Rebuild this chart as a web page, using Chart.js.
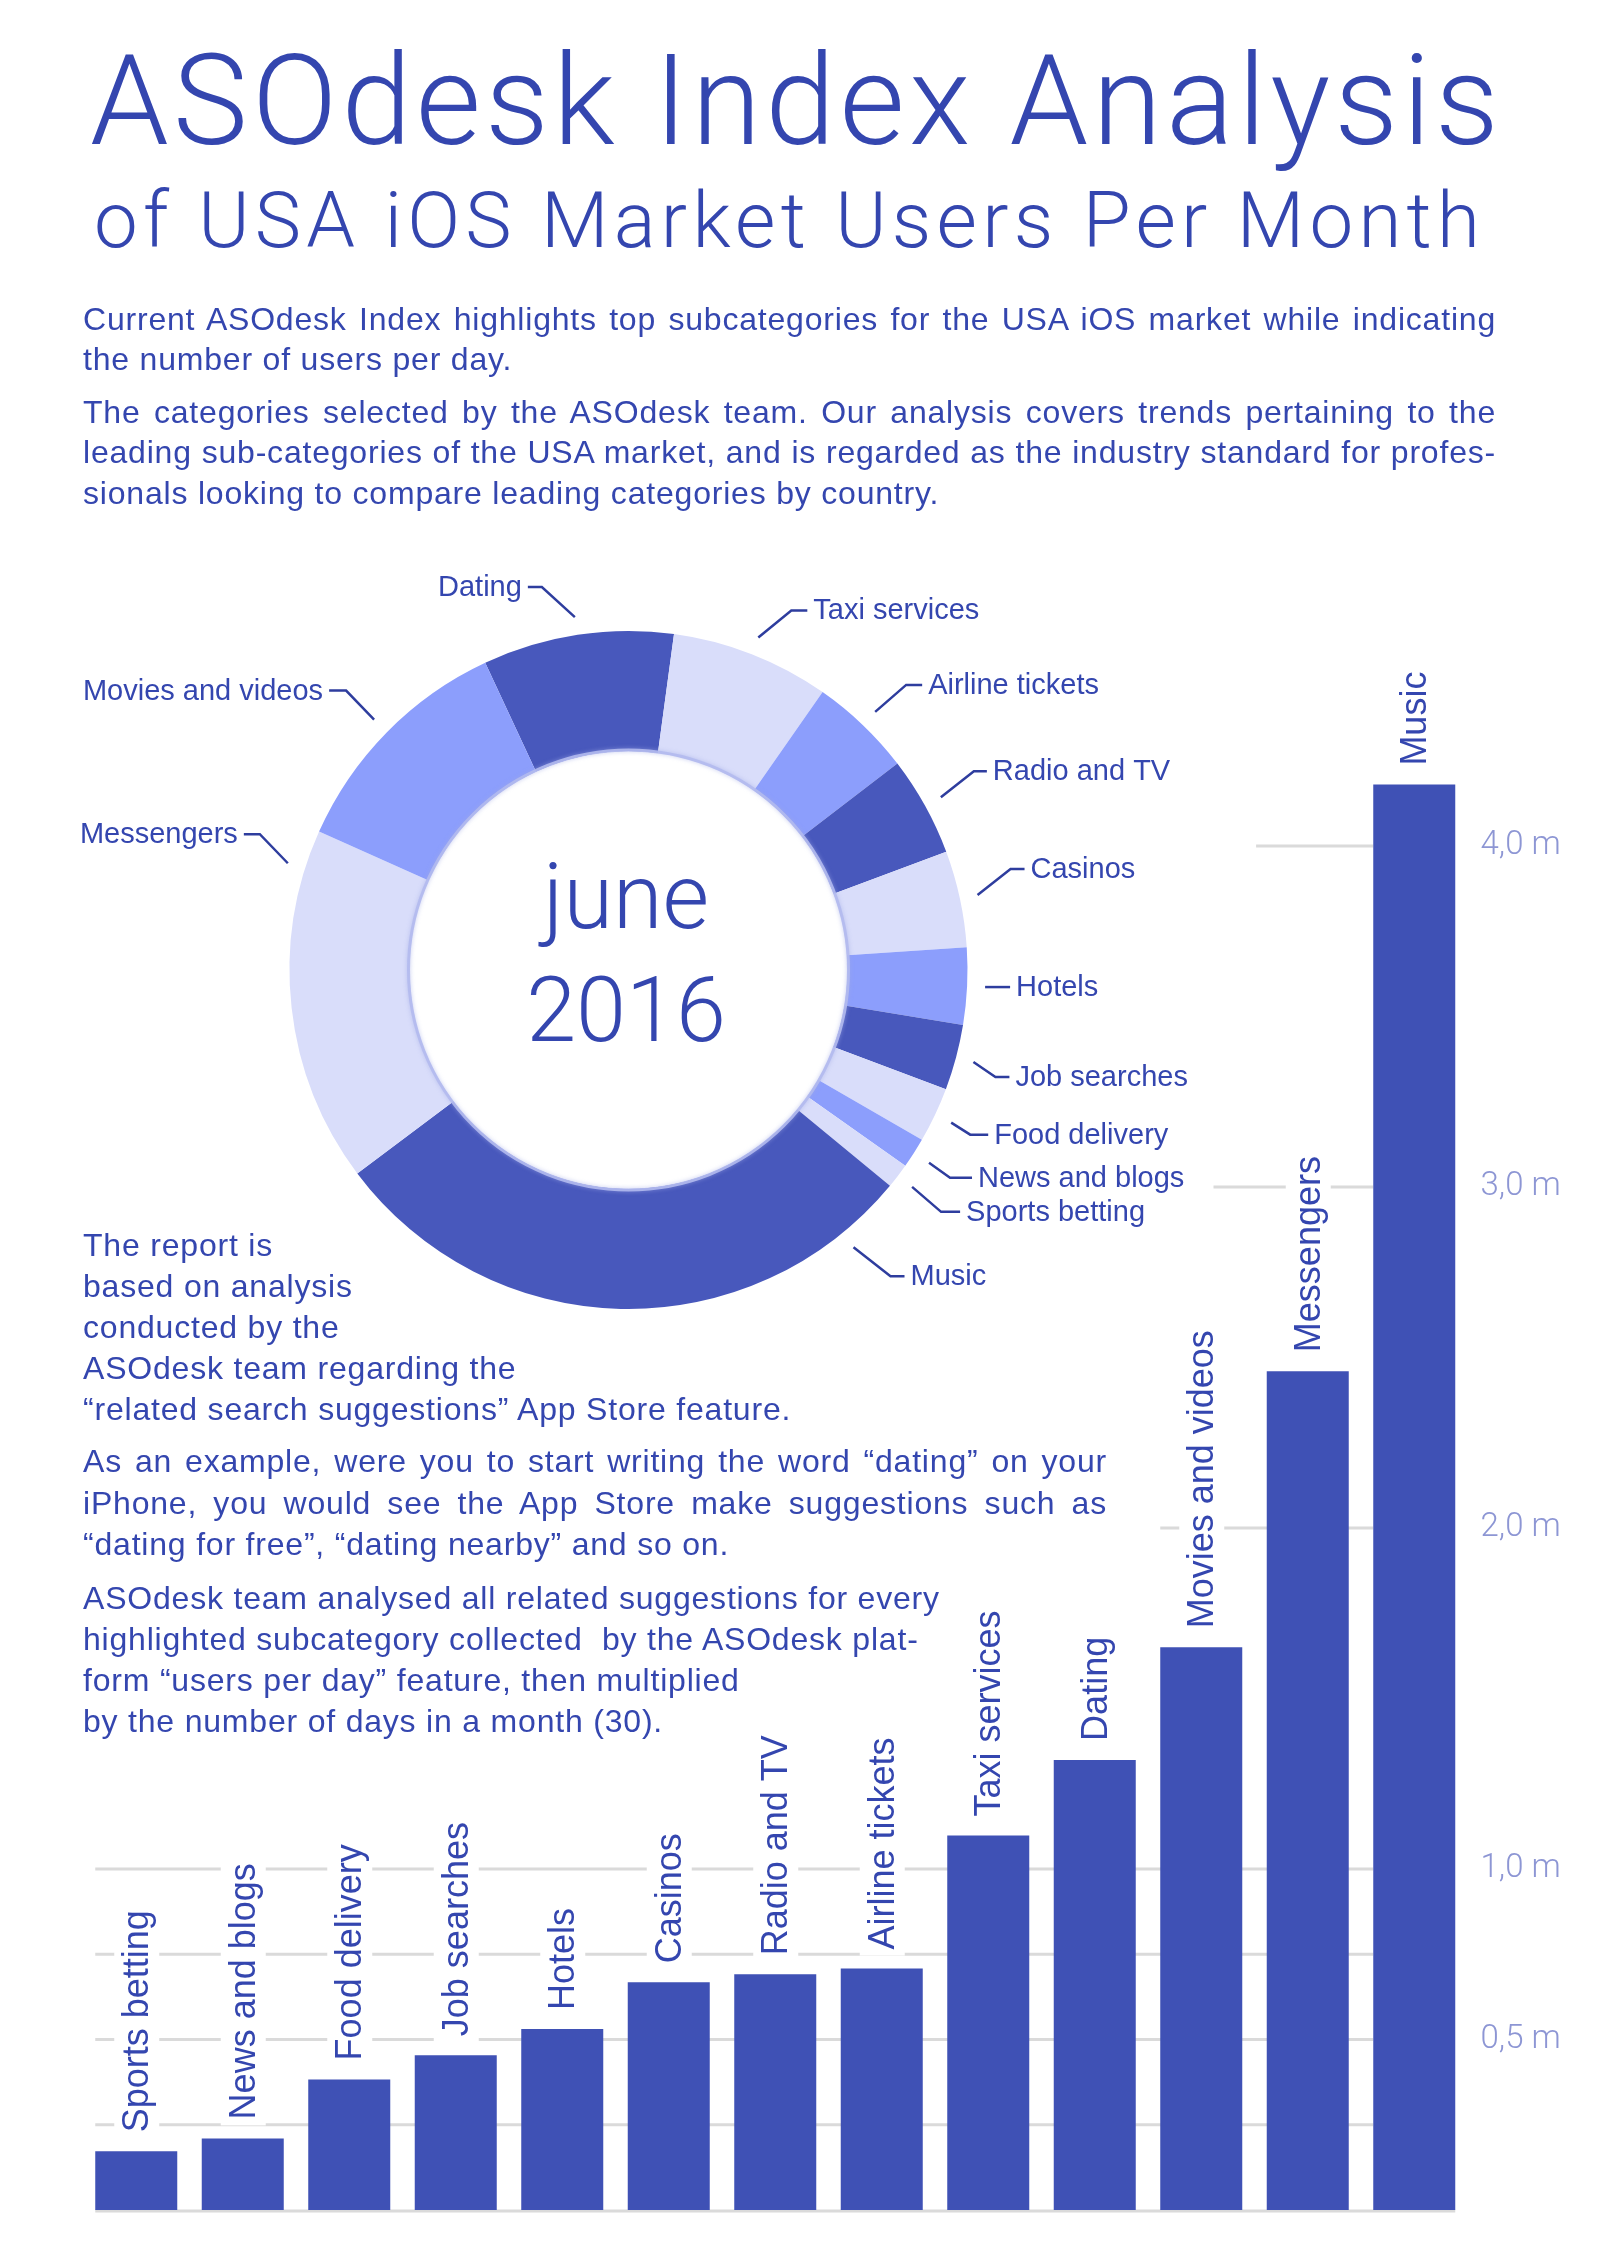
<!DOCTYPE html>
<html>
<head>
<meta charset="utf-8">
<title>ASOdesk Index Analysis</title>
<script src="https://cdn.jsdelivr.net/npm/chart.js@4.4.1/dist/chart.umd.min.js"></script>
<style>
  html, body { margin: 0; padding: 0; background: #fff; }
  body { position: relative; width: 1600px; height: 2263px; overflow: hidden;
         font-family: "Liberation Sans", Arial, sans-serif; color: #3446AF; }
  .layer { position: absolute; left: 0; top: 0; width: 1600px; height: 2263px; }
  .thin { font-family: Roboto, Lato, "Open Sans", sans-serif; font-weight: 300; }
  .head { position: absolute; margin: 0; white-space: nowrap; line-height: 1; }
  .line { position: absolute; left: 83px; font-size: 32px; line-height: 41px; letter-spacing: 0.8px; white-space: pre; }
  .center { position: absolute; left: 426px; width: 400px; text-align: center; font-size: 90px; line-height: 1; }
</style>
</head>
<body>
<div class="layer"><canvas id="barChart"></canvas></div>
<div class="layer"><canvas id="donutChart"></canvas></div>

<h1 class="head thin" style="left:90px;font-size:126px" data-b="144" data-w="1413">ASOdesk Index Analysis</h1>
<h2 class="head thin" style="left:94px;font-size:78px" data-b="247" data-w="1391">of USA iOS Market Users Per Month</h2>

<div class="line" data-j="1413" data-b="330"><span>Current ASOdesk Index highlights top subcategories for the USA iOS market while indicating</span></div>
<div class="line" data-b="370">the number of users per day.</div>
<div class="line" data-j="1413" data-b="423"><span>The categories selected by the ASOdesk team. Our analysis covers trends pertaining to the</span></div>
<div class="line" data-j="1413" data-b="463"><span>leading sub-categories of the USA market, and is regarded as the industry standard for profes-</span></div>
<div class="line" data-b="504">sionals looking to compare leading categories by country.</div>

<div class="center thin" data-b="928">june</div>
<div class="center thin" data-b="1041">2016</div>

<div class="line" data-b="1256">The report is</div>
<div class="line" data-b="1297">based on analysis</div>
<div class="line" data-b="1338">conducted by the</div>
<div class="line" data-b="1379">ASOdesk team regarding the</div>
<div class="line" data-b="1420">“related search suggestions” App Store feature.</div>
<div class="line" data-j="1024" data-b="1472"><span>As an example, were you to start writing the word “dating” on your</span></div>
<div class="line" data-j="1024" data-b="1514"><span>iPhone, you would see the App Store make suggestions such as</span></div>
<div class="line" data-b="1555">“dating for free”, “dating nearby” and so on.</div>
<div class="line" data-b="1609">ASOdesk team analysed all related suggestions for every</div>
<div class="line" data-b="1650">highlighted subcategory collected  by the ASOdesk plat-</div>
<div class="line" data-b="1691">form “users per day” feature, then multiplied</div>
<div class="line" data-b="1732">by the number of days in a month (30).</div>

<script>
// DATA
const categories = ['Sports betting', 'News and blogs', 'Food delivery', 'Job searches', 'Hotels', 'Casinos',
  'Radio and TV', 'Airline tickets', 'Taxi services', 'Dating', 'Movies and videos', 'Messengers', 'Music'];
const usersMillions = [0.172, 0.210, 0.383, 0.454, 0.531, 0.668, 0.691, 0.708, 1.098, 1.320, 1.650, 2.460, 4.180];
const yTickValues = [0.5, 1, 2, 3, 4];
const yTickLabels = ['0,5 m', '1,0 m', '2,0 m', '3,0 m', '4,0 m'];
const gridValues = [0, 0.25, 0.5, 0.75, 1, 2, 3, 4];
const gridStartIndex = [0, 0, 0, 0, 0, 10, 10.5, 10.9];
const donutOrder = ['Dating', 'Taxi services', 'Airline tickets', 'Radio and TV', 'Casinos', 'Hotels',
  'Job searches', 'Food delivery', 'News and blogs', 'Sports betting', 'Music', 'Messengers', 'Movies and videos'];
const donutShades = ['dark', 'light', 'medium', 'dark', 'light', 'medium', 'dark', 'light', 'medium', 'light',
  'dark', 'light', 'medium'];

// STYLE
const TEXT = '#3446AF';
const BAR = '#3F51B5';
const GRID = '#DADADA';
const TICK = '#8D96D4';
const LEADER = '#2E3D9E';
const SHADES = { dark: '#4858BC', medium: '#8C9EFC', light: '#D9DDFA' };
const BAR_PCT = 0.77;

// leader line layout for the doughnut labels (f = position along the slice)
const leaderLayout = {
  'Dating':            { f: 0.5,  dx: -33, dy: -30, h: 14, left: true },
  'Taxi services':     { f: 0.5,  dx: 33,  dy: -27, h: 16 },
  'Airline tickets':   { f: 0.5,  dx: 31,  dy: -27, h: 16 },
  'Radio and TV':      { f: 0.5,  dx: 33,  dy: -26, h: 13 },
  'Casinos':           { f: 0.5,  dx: 33,  dy: -26, h: 14 },
  'Hotels':            { f: 0.5,  dx: 0,   dy: 0,   h: 25 },
  'Job searches':      { f: 0.5,  dx: 22,  dy: 15,  h: 14 },
  'Food delivery':     { f: 0.5,  dx: 19,  dy: 12,  h: 18 },
  'News and blogs':    { f: 0.5,  dx: 21,  dy: 15,  h: 22 },
  'Sports betting':    { f: 0.5,  dx: 29,  dy: 25,  h: 19 },
  'Music':             { f: 0.11, dx: 37,  dy: 29,  h: 14 },
  'Messengers':        { f: 0.89, dx: -28, dy: -29, h: 16, left: true },
  'Movies and videos': { f: 0.5,  dx: -28, dy: -29, h: 17, left: true }
};

// PLUGINS
const partialGrid = {
  id: 'partialGrid',
  beforeDatasetsDraw(chart) {
    const { ctx, scales: { x, y } } = chart;
    const half = x.width / categories.length * BAR_PCT / 2;
    const end = x.getPixelForValue(categories.length - 1) - half;
    ctx.save();
    ctx.strokeStyle = GRID;
    ctx.lineWidth = 3;
    gridValues.forEach((v, k) => {
      const py = y.getPixelForValue(v) + (v === 0 ? 1 : 0);
      const x0 = x.getPixelForValue(gridStartIndex[k]) - half;
      const x1 = v === 0 ? end + 2 * half : end;
      ctx.beginPath(); ctx.moveTo(x0, py); ctx.lineTo(x1, py); ctx.stroke();
    });
    ctx.restore();
  }
};

const barLabels = {
  id: 'barLabels',
  afterDatasetsDraw(chart) {
    const ctx = chart.ctx;
    const bars = chart.getDatasetMeta(0).data;
    ctx.save();
    ctx.font = '36px "Liberation Sans", Arial, sans-serif';
    ctx.textBaseline = 'middle';
    ctx.textAlign = 'left';
    bars.forEach((bar, i) => {
      const text = chart.data.labels[i];
      const w = ctx.measureText(text).width;
      ctx.save();
      ctx.translate(bar.x + 2, bar.y - 19);
      ctx.rotate(-Math.PI / 2);
      ctx.fillStyle = '#fff';
      ctx.fillRect(-6, -24, w + 12, 45);
      ctx.fillStyle = TEXT;
      ctx.fillText(text, 0, 0);
      ctx.restore();
    });
    ctx.restore();
  }
};

const donutLabels = {
  id: 'donutLabels',
  afterDatasetsDraw(chart) {
    const ctx = chart.ctx;
    const arcs = chart.getDatasetMeta(0).data;
    ctx.save();
    // soft rim round the hole
    const a0 = arcs[0];
    ctx.beginPath();
    ctx.arc(a0.x, a0.y, a0.innerRadius + 1, 0, Math.PI * 2);
    ctx.strokeStyle = 'rgba(178,186,238,0.9)';
    ctx.lineWidth = 3;
    ctx.shadowColor = 'rgba(160,170,230,0.7)';
    ctx.shadowBlur = 4;
    ctx.stroke();
    ctx.shadowBlur = 0;

    ctx.font = '29px "Liberation Sans", Arial, sans-serif';
    ctx.textBaseline = 'middle';
    ctx.fillStyle = TEXT;
    ctx.strokeStyle = LEADER;
    ctx.lineWidth = 2.5;
    arcs.forEach((arc, i) => {
      const name = chart.data.labels[i];
      const lay = leaderLayout[name];
      const a = arc.startAngle + lay.f * (arc.endAngle - arc.startAngle);
      const r = arc.outerRadius + 18;
      const x0 = arc.x + r * Math.cos(a), y0 = arc.y + r * Math.sin(a);
      const x1 = x0 + lay.dx, y1 = y0 + lay.dy;
      const side = lay.left ? -1 : 1;
      const x2 = x1 + side * lay.h;
      ctx.beginPath(); ctx.moveTo(x0, y0); ctx.lineTo(x1, y1); ctx.lineTo(x2, y1); ctx.stroke();
      ctx.textAlign = lay.left ? 'right' : 'left';
      ctx.fillText(name, x2 + side * 6, y1 + 1);
    });
    ctx.restore();
  }
};

// BAR CHART
new Chart(document.getElementById('barChart'), {
  type: 'bar',
  data: {
    labels: categories,
    datasets: [{ data: usersMillions, backgroundColor: BAR, borderWidth: 0,
                 barPercentage: BAR_PCT, categoryPercentage: 1 }]
  },
  options: {
    responsive: true, maintainAspectRatio: false, animation: false,
    layout: { padding: { left: 83, right: 0, top: 675.5, bottom: 53 } },
    plugins: { legend: { display: false }, tooltip: { enabled: false } },
    scales: {
      x: { display: false },
      y: {
        position: 'right', min: 0, max: 4.5,
        grid: { display: false, drawTicks: false }, border: { display: false },
        afterBuildTicks: s => { s.ticks = yTickValues.map(v => ({ value: v })); },
        afterFit: s => { s.width = 132.5; },
        ticks: {
          color: TICK, padding: 13,
          font: { family: 'Roboto, Lato, "Open Sans", sans-serif', size: 33, weight: '300' },
          callback: v => yTickLabels[yTickValues.indexOf(v)]
        }
      }
    }
  },
  plugins: [partialGrid, barLabels]
});

// DOUGHNUT
new Chart(document.getElementById('donutChart'), {
  type: 'doughnut',
  data: {
    labels: donutOrder,
    datasets: [{
      data: donutOrder.map(c => usersMillions[categories.indexOf(c)]),
      backgroundColor: donutShades.map(s => SHADES[s]),
      borderWidth: 0
    }]
  },
  options: {
    responsive: true, maintainAspectRatio: false, animation: false,
    rotation: -25, cutout: 219, radius: 339,
    layout: { padding: { left: 289.5, top: 631, right: 632.5, bottom: 954 } },
    plugins: { legend: { display: false }, tooltip: { enabled: false } }
  },
  plugins: [donutLabels]
});

// TEXT PLACEMENT
function fitWidth(el) {
  const target = parseFloat(el.dataset.w);
  const n = el.textContent.length;
  const w = el.getBoundingClientRect().width;
  el.style.letterSpacing = ((target - w) / n) + 'px';
}
function justifyLine(el) {
  const span = el.querySelector('span');
  const spaces = (span.textContent.match(/ /g) || []).length;
  const w = span.getBoundingClientRect().width;
  el.style.wordSpacing = ((parseFloat(el.dataset.j) - w) / spaces) + 'px';
}
function placeByBaseline(el) {
  const mark = document.createElement('span');
  mark.style.cssText = 'display:inline-block;width:0;height:0;vertical-align:baseline';
  el.appendChild(mark);
  const b = mark.offsetTop;
  el.removeChild(mark);
  el.style.top = (parseFloat(el.dataset.b) - b) + 'px';
}
document.querySelectorAll('[data-w]').forEach(fitWidth);
document.querySelectorAll('[data-j]').forEach(justifyLine);
document.querySelectorAll('[data-b]').forEach(placeByBaseline);
</script>
</body>
</html>
